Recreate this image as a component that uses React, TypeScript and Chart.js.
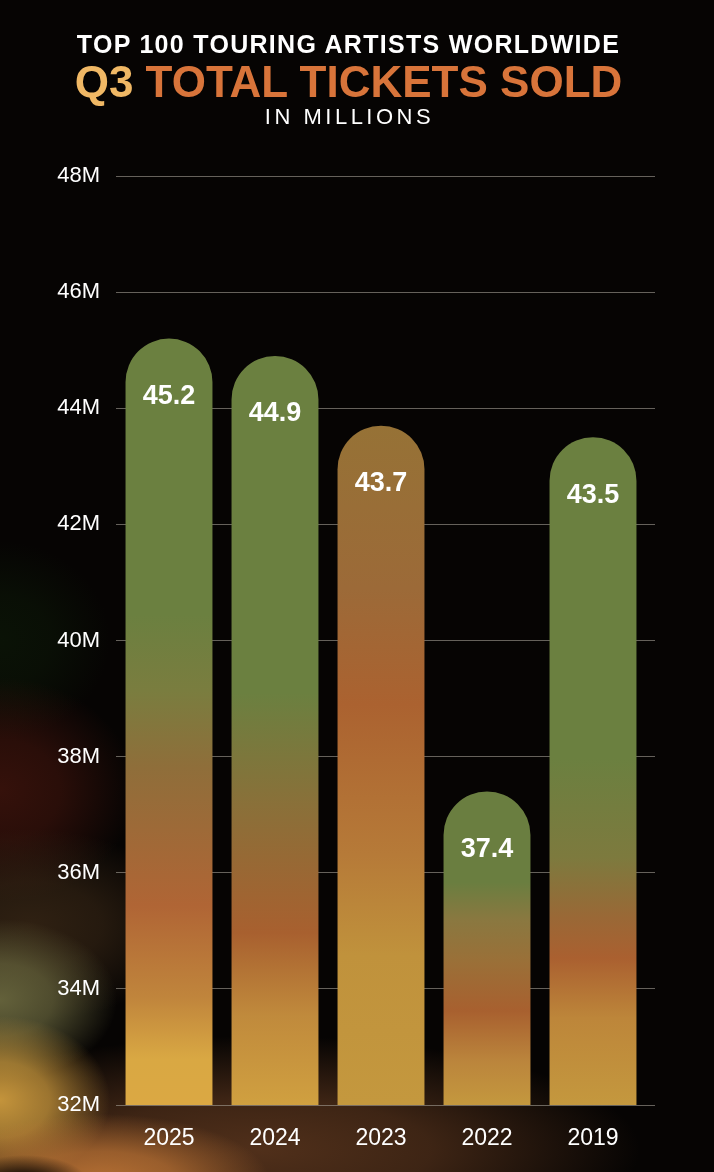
import React, { useEffect, useRef } from 'react';
import { Chart, registerables } from 'chart.js';

Chart.register(...registerables);

const years = ['2025', '2024', '2023', '2022', '2019'];
const ticketsSold = [45.2, 44.9, 43.7, 37.4, 43.5];
const axisMin = 32;
const axisMax = 48;
const axisStep = 2;

// colour ramps for each bar, top (0) to bottom (1)
const barRamps: [number, string][][] = [
  [[0, '#6b8040'], [0.36, '#6b8040'], [0.46, '#7a7d3f'], [0.56, '#8f6e3a'], [0.74, '#b06535'], [0.86, '#c0853c'], [0.94, '#d9a843'], [1, '#dba843']],
  [[0, '#6b8040'], [0.45, '#6b8040'], [0.6, '#8a7039'], [0.77, '#a8602f'], [0.88, '#c08a3c'], [1, '#d0a040']],
  [[0, '#967236'], [0.24, '#9c6a38'], [0.41, '#ab6230'], [0.63, '#b67a38'], [0.78, '#c0923c'], [1, '#c4983e']],
  [[0, '#6a7e40'], [0.29, '#6a7e40'], [0.41, '#8a7840'], [0.54, '#9a7038'], [0.7, '#a8602f'], [0.86, '#bb853c'], [1, '#c4983e']],
  [[0, '#6b8040'], [0.48, '#6b8040'], [0.63, '#7d7a3e'], [0.72, '#9a6836'], [0.78, '#aa6030'], [0.87, '#bd863a'], [1, '#c4983e']],
];

const gridColor = 'rgba(165,160,150,0.6)';

const backdrop = {
  id: 'backdrop',
  beforeDraw(chart: Chart) {
    const { ctx, width, height } = chart;
    ctx.save();
    ctx.fillStyle = '#060403';
    ctx.fillRect(0, 0, width, height);
    const glow = (x: number, y: number, r: number, rgb: string, a: number, sx = 1, sy = 1) => {
      ctx.save();
      ctx.translate(x, y);
      ctx.scale(sx, sy);
      const g = ctx.createRadialGradient(0, 0, 0, 0, 0, r);
      g.addColorStop(0, `rgba(${rgb},${a})`);
      g.addColorStop(0.45, `rgba(${rgb},${a * 0.75})`);
      g.addColorStop(1, `rgba(${rgb},0)`);
      ctx.fillStyle = g;
      ctx.fillRect(-r, -r, r * 2, r * 2);
      ctx.restore();
    };
    glow(0, 640, 110, '18,45,12', 0.35, 1, 0.9);
    glow(0, 790, 150, '85,26,16', 0.6, 0.9, 0.75);
    glow(30, 925, 160, '65,45,25', 0.7, 1, 0.6);
    glow(260, 1150, 380, '105,62,34', 0.75, 1, 0.3);
    glow(0, 1000, 180, '108,106,64', 0.9, 0.65, 0.45);
    glow(0, 1100, 200, '205,155,62', 0.95, 0.55, 0.42);
    glow(100, 1182, 170, '195,120,55', 0.9, 1, 0.4);
    glow(25, 1185, 50, '0,0,0', 0.9, 1.3, 0.6);
    ctx.restore();
  },
};

// value labels inside the rounded bar tops, plus the short grid run past the last bar
const valueLabels = {
  id: 'valueLabels',
  afterDraw(chart: Chart) {
    const { ctx, chartArea } = chart;
    const y: any = chart.scales.y;
    ctx.save();
    ctx.strokeStyle = gridColor;
    ctx.lineWidth = 1;
    y.ticks.forEach((t: any) => {
      const py = Math.round(y.getPixelForValue(t.value) - 0.5) + 0.5;
      ctx.beginPath();
      ctx.moveTo(chartArea.right, py);
      ctx.lineTo(chartArea.right + 9, py);
      ctx.stroke();
    });
    const meta = chart.getDatasetMeta(0);
    ctx.fillStyle = '#ffffff';
    ctx.font = 'bold 27px "Liberation Sans", Arial, sans-serif';
    ctx.textAlign = 'center';
    ctx.textBaseline = 'middle';
    meta.data.forEach((bar: any, i: number) => {
      ctx.fillText(ticketsSold[i].toFixed(1), bar.x, bar.y + 58);
    });
    ctx.restore();
  },
};

const TicketsChart: React.FC = () => {
  const chartRef = useRef<HTMLCanvasElement>(null);
  const chartInstance = useRef<Chart | null>(null);

  useEffect(() => {
    if (!chartRef.current) return;
    if (chartInstance.current) chartInstance.current.destroy();

    const ctx = chartRef.current.getContext('2d');
    if (!ctx) return;

    chartInstance.current = new Chart(ctx, {
      type: 'bar',
      data: {
        labels: years,
        datasets: [
          {
            label: 'Tickets sold (M)',
            data: ticketsSold,
            backgroundColor: (c: any) => {
              const chart = c.chart;
              const y = chart.scales.y;
              if (!chart.chartArea || !y || c.dataIndex === undefined) return '#6b8040';
              const top = y.getPixelForValue(ticketsSold[c.dataIndex]);
              const bottom = y.getPixelForValue(axisMin);
              if (!isFinite(top) || !isFinite(bottom) || top === bottom) return '#6b8040';
              const g = chart.ctx.createLinearGradient(0, top, 0, bottom);
              barRamps[c.dataIndex].forEach(([p, col]) => g.addColorStop(p, col));
              return g;
            },
            borderWidth: 0,
            borderRadius: { topLeft: 50, topRight: 50, bottomLeft: 0, bottomRight: 0 },
            borderSkipped: 'bottom',
            barPercentage: 0.82,
            categoryPercentage: 1,
          },
        ],
      },
      options: {
        responsive: true,
        maintainAspectRatio: false,
        animation: false,
        layout: { padding: { top: 176, right: 68, bottom: 0, left: 0 } },
        plugins: {
          legend: { display: false },
          tooltip: { enabled: false },
        },
        scales: {
          x: {
            grid: { display: false },
            border: { display: false },
            ticks: {
              color: '#ffffff',
              padding: 12,
              font: { family: '"Liberation Sans", Arial, sans-serif', size: 23 },
            },
            afterFit: (s: any) => {
              s.height = 67;
            },
          },
          y: {
            min: axisMin,
            max: axisMax,
            z: 1,
            grid: { color: gridColor, lineWidth: 1, drawTicks: false },
            border: { display: false },
            ticks: {
              stepSize: axisStep,
              color: '#ffffff',
              padding: 16,
              font: { family: '"Liberation Sans", Arial, sans-serif', size: 22 },
              callback: (v: any) => `${v}M`,
            },
            afterFit: (s: any) => {
              s.width = 116;
            },
          },
        },
      },
      plugins: [backdrop, valueLabels],
    });

    return () => {
      if (chartInstance.current) {
        chartInstance.current.destroy();
        chartInstance.current = null;
      }
    };
  }, []);

  return <canvas ref={chartRef} />;
};

const font = '"Liberation Sans", Arial, sans-serif';

export default function App() {
  return (
    <div style={{ position: 'fixed', left: 0, top: 0, width: 714, height: 1172, background: '#060403', overflow: 'hidden' }}>
      <div style={{ position: 'absolute', left: 0, top: 0, width: 714, height: 1172 }}>
        <TicketsChart />
      </div>
      <div style={{ position: 'absolute', left: 0, width: 697, top: 31.7, textAlign: 'center', color: '#ffffff', font: `bold 25px/25px ${font}`, letterSpacing: '1.3px', whiteSpace: 'nowrap' }}>
        TOP 100 TOURING ARTISTS WORLDWIDE
      </div>
      <div style={{ position: 'absolute', left: 0, width: 697, top: 60.3, textAlign: 'center', color: '#d8743a', font: `bold 44px/44px ${font}`, whiteSpace: 'nowrap' }}>
        <span style={{ color: '#f0b865' }}>Q3</span> TOTAL TICKETS SOLD
      </div>
      <div style={{ position: 'absolute', left: 0, width: 699, top: 106, textAlign: 'center', color: '#ffffff', font: `22px/22px ${font}`, letterSpacing: '3.5px', whiteSpace: 'nowrap' }}>
        IN MILLIONS
      </div>
    </div>
  );
}
